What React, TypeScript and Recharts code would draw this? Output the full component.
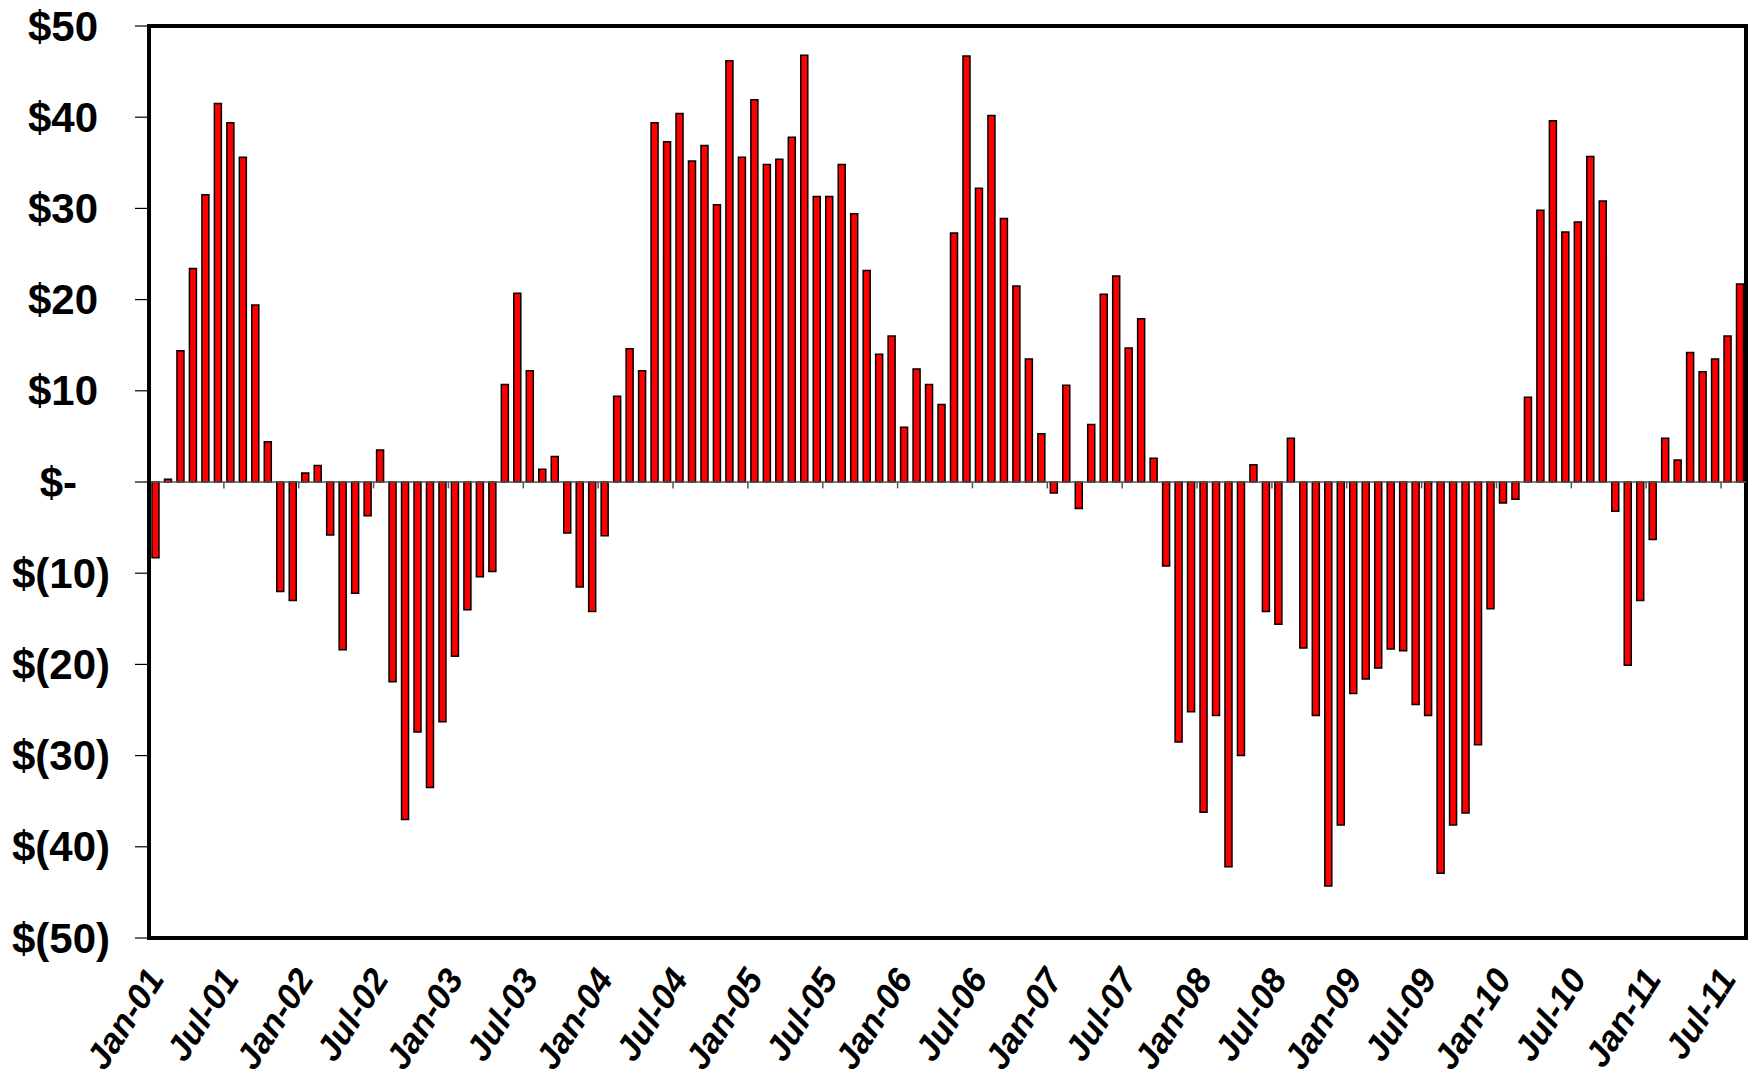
import { Bar, BarChart, ReferenceArea, ReferenceLine, XAxis, YAxis } from "recharts";

// monthly values, $
const y2001 = [-8.3, 0.3, 14.4, 23.4, 31.5, 41.5, 39.4, 35.6, 19.4, 4.4, -12.0, -13.0];
const y2002 = [1.0, 1.8, -5.8, -18.4, -12.2, -3.7, 3.5, -21.9, -37.0, -27.4, -33.5, -26.3];
const y2003 = [-19.1, -14.0, -10.4, -9.8, 10.7, 20.7, 12.2, 1.4, 2.8, -5.6, -11.5, -14.2];
const y2004 = [-5.9, 9.4, 14.6, 12.2, 39.4, 37.3, 40.4, 35.2, 36.9, 30.4, 46.2, 35.6];
const y2005 = [41.9, 34.8, 35.4, 37.8, 46.8, 31.3, 31.3, 34.8, 29.4, 23.2, 14.0, 16.0];
const y2006 = [6.0, 12.4, 10.7, 8.5, 27.3, 46.7, 32.2, 40.2, 28.9, 21.5, 13.5, 5.3];
const y2007 = [-1.2, 10.6, -2.9, 6.3, 20.6, 22.6, 14.7, 17.9, 2.6, -9.2, -28.5, -25.2];
const y2008 = [-36.2, -25.6, -42.2, -30.0, 1.9, -14.2, -15.6, 4.8, -18.2, -25.6, -44.3, -37.6];
const y2009 = [-23.2, -21.6, -20.4, -18.3, -18.5, -24.4, -25.6, -42.9, -37.6, -36.3, -28.8, -13.9];
const y2010 = [-2.3, -1.9, 9.3, 29.8, 39.6, 27.4, 28.5, 35.7, 30.8, -3.2, -20.1, -13.0];
const y2011 = [-6.3, 4.8, 2.4, 14.2, 12.1, 13.5, 16.0, 21.7];

const years = ["01", "02", "03", "04", "05", "06", "07", "08", "09", "10", "11"];
const monthNames = ["Jan", "Feb", "Mar", "Apr", "May", "Jun", "Jul", "Aug", "Sep", "Oct", "Nov", "Dec"];
const xTicks = [
  "Jan-01", "Jul-01", "Jan-02", "Jul-02", "Jan-03", "Jul-03", "Jan-04", "Jul-04", "Jan-05", "Jul-05", "Jan-06",
  "Jul-06", "Jan-07", "Jul-07", "Jan-08", "Jul-08", "Jan-09", "Jul-09", "Jan-10", "Jul-10", "Jan-11", "Jul-11",
];
const yTicks = [50, 40, 30, 20, 10, 0, -10, -20, -30, -40, -50];

const values = [y2001, y2002, y2003, y2004, y2005, y2006, y2007, y2008, y2009, y2010, y2011].flat();
const data = values.map((v, i) => ({
  month: `${monthNames[i % 12]}-${years[Math.floor(i / 12)]}`,
  value: v,
}));

// small tick marks on the zero line sit between the month before and the labelled month
const zeroTicks = xTicks.slice(1).map((m) => {
  const i = data.findIndex((d) => d.month === m);
  return [data[i - 1].month, m];
});

const FONT = "'Liberation Sans', Arial, sans-serif";

function fmt(v: number) {
  if (v > 0) return `$${v}`;
  if (v === 0) return "$-";
  return `$(${-v})`;
}

function YTick({ x, y, payload }: any) {
  const v = payload.value;
  // accounting-style padding on the right
  const pad = v > 0 ? 37 : v === 0 ? 58 : 25;
  return (
    <text x={x - pad} y={y} textAnchor="end" dominantBaseline="central" fontFamily={FONT} fontSize={42} fontWeight="bold" fill="#000">
      {fmt(v)}
    </text>
  );
}

function XTick({ x, y, payload }: any) {
  const ax = x + 10;
  const ay = y + 41;
  return (
    <text
      x={ax}
      y={ay}
      textAnchor="end"
      transform={`rotate(-57, ${ax}, ${ay})`}
      fontFamily={FONT}
      fontSize={35}
      fontWeight="bold"
      fontStyle="italic"
      fill="#000"
    >
      {payload.value}
    </text>
  );
}

const BetweenTick = (p: any) => {
  const mx = (p.x1 + p.x2) / 2;
  return <line x1={mx} x2={mx} y1={p.y1} y2={p.y2} stroke="#555" strokeWidth={1.5} />;
};

export default function App() {
  return (
    <div style={{ position: "absolute", left: 0, top: 0, width: 1758, height: 1081, background: "#fff" }}>
      <BarChart width={1758} height={1081} data={data} margin={{ top: 26, right: 12, bottom: 0, left: 0 }} barCategoryGap={0}>
        <XAxis
          dataKey="month"
          ticks={xTicks}
          interval={0}
          height={143}
          tick={<XTick />}
          tickLine={false}
          tickSize={0}
          tickMargin={0}
          axisLine={{ stroke: "#000", strokeWidth: 4 }}
        />
        <YAxis
          type="number"
          domain={[-50, 50]}
          ticks={yTicks}
          interval={0}
          width={149}
          tick={<YTick />}
          tickSize={14}
          tickMargin={0}
          tickLine={{ stroke: "#000", strokeWidth: 1.2 }}
          axisLine={{ stroke: "#000", strokeWidth: 4 }}
          allowDataOverflow
        />
        <ReferenceLine y={0} stroke="#555" strokeWidth={1.5} />
        {zeroTicks.map(([a, b]) => (
          <ReferenceLine
            key={b}
            segment={[{ x: a, y: 0 }, { x: b, y: -0.7 }]}
            shape={BetweenTick}
          />
        ))}
        <Bar dataKey="value" fill="#ff0000" stroke="#000" strokeWidth={1.5} barSize={7} isAnimationActive={false} />
        <ReferenceArea y1={-50} y2={50} fill="none" stroke="#000" strokeWidth={4} ifOverflow="visible" />
      </BarChart>
    </div>
  );
}
